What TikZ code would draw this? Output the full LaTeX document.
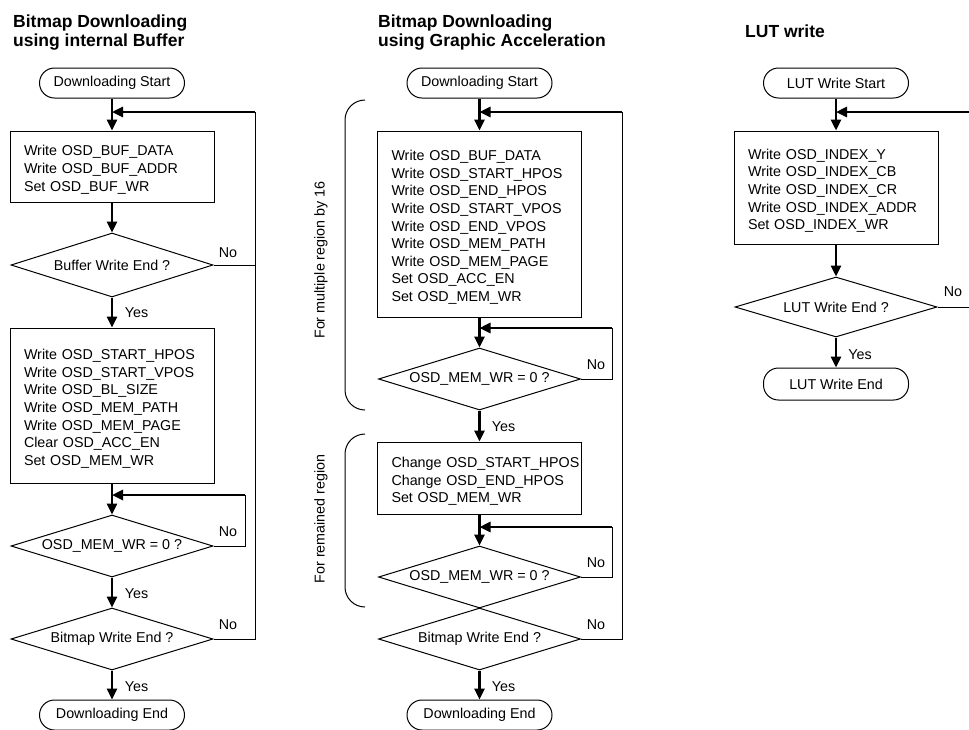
\documentclass[tikz,border=0pt]{standalone}
\usepackage{fontspec}
\setmainfont{Liberation Sans}
\usetikzlibrary{arrows.meta,shapes.geometric}
\begin{document}
\begin{tikzpicture}[x=1pt,y=-1pt,
  txt/.style={font=\fontsize{14.3}{17.6}\selectfont},
  term/.style={draw, line width=1pt, rounded corners=15pt, minimum width=145pt, minimum height=30pt, inner sep=0pt, txt},
  proc/.style={draw, line width=1pt, text width=176pt, inner xsep=14pt, inner ysep=0pt, align=left, txt,
    execute at begin node={\rule{0pt}{17pt}}},
  dec/.style={draw, diamond, line width=1pt, minimum width=202pt, inner sep=0pt, shape aspect=3, txt},
  flow/.style={line width=2.6pt, -{Triangle[length=11pt,width=10pt]}},
  back/.style={line width=1pt},
  ret/.style={line width=2.6pt, -{Triangle[length=11pt,width=10pt]}},
  lbl/.style={txt, inner sep=0pt},
  ttl/.style={font=\fontsize{17.5}{19}\selectfont\bfseries, align=left, anchor=north west, inner sep=0pt}
]
\useasboundingbox (0,0) rectangle (969,729);
\clip (0,0) rectangle (969,729);

% titles
\node[ttl] (t1) at (13,15) {Bitmap Downloading\\using internal Buffer};
\node[ttl] (t2) at (378,15) {Bitmap Downloading\\using Graphic Acceleration};
\node[ttl] (t3) at (745,25) {LUT write};

% column 1
\node[term] (s1) at (112,83) {Downloading Start};
\node[proc, minimum height=71pt] (b1) at (112,166.5) {Write OSD\_BUF\_DATA\\Write OSD\_BUF\_ADDR\\Set OSD\_BUF\_WR};
\node[dec, minimum height=64pt] (d1) at (112,265) {Buffer Write End ?};
\node[proc, minimum height=155pt] (b2) at (112,405.5) {Write OSD\_START\_HPOS\\Write OSD\_START\_VPOS\\Write OSD\_BL\_SIZE\\Write OSD\_MEM\_PATH\\Write OSD\_MEM\_PAGE\\Clear OSD\_ACC\_EN\\Set OSD\_MEM\_WR};
\node[dec, minimum height=62pt] (d2) at (112,546) {OSD\_MEM\_WR = 0 ?};
\node[dec, minimum height=62pt] (d3) at (112,639) {Bitmap Write End ?};
\node[term] (e1) at (112,715) {Downloading End};

% column 2
\node[term] (s2) at (479.5,83) {Downloading Start};
\node[proc, minimum height=186pt] (c1) at (479.5,224) {Write OSD\_BUF\_DATA\\Write OSD\_START\_HPOS\\Write OSD\_END\_HPOS\\Write OSD\_START\_VPOS\\Write OSD\_END\_VPOS\\Write OSD\_MEM\_PATH\\Write OSD\_MEM\_PAGE\\Set OSD\_ACC\_EN\\Set OSD\_MEM\_WR};
\node[dec, minimum height=62pt] (m1) at (479.5,379) {OSD\_MEM\_WR = 0 ?};
\node[proc, minimum height=72pt] (c2) at (479.5,478) {\mbox{Change OSD\_START\_HPOS}\\Change OSD\_END\_HPOS\\Set OSD\_MEM\_WR};
\node[dec, minimum height=62pt] (m2) at (479.5,577) {OSD\_MEM\_WR = 0 ?};
\node[dec, minimum height=62pt] (m3) at (479.5,639) {Bitmap Write End ?};
\node[term] (e2) at (479.5,715) {Downloading End};

% column 3
\node[term] (s3) at (836,83) {LUT Write Start};
\node[proc, minimum height=113pt] (l1) at (836,187.5) {Write OSD\_INDEX\_Y\\Write OSD\_INDEX\_CB\\Write OSD\_INDEX\_CR\\Write OSD\_INDEX\_ADDR\\Set OSD\_INDEX\_WR};
\node[dec, minimum height=60pt] (l2) at (836,307) {LUT Write End ?};
\node[term, minimum height=32pt] (l3) at (836,384) {LUT Write End};

% main flow
\draw[flow] (s1) -- (b1);
\draw[flow] (b1) -- (d1);
\draw[flow] (d1) -- (b2);
\draw[flow] (b2) -- (d2);
\draw[flow] (d2) -- (d3);
\draw[flow] (d3) -- (e1);
\draw[flow] (s2) -- (c1);
\draw[flow] (c1) -- (m1);
\draw[flow] (m1) -- (c2);
\draw[flow] (c2) -- (m2);
\draw[flow] (m3) -- (e2);
\draw[flow] (s3) -- (l1);
\draw[flow] (l1) -- (l2);
\draw[flow] (l2) -- (l3);

% return loops
\coordinate (r1) at (255,112);
\coordinate (r2) at (245,495);
\coordinate (r3) at (622,112);
\coordinate (r4) at (612,328);
\coordinate (r5) at (612,527);
\coordinate (r6) at (990,112);
\draw[back] (d3.east) -- (d3.east -| r1) -- (r1);
\draw[back] (d1.east) -- (d1.east -| r1);
\draw[ret] (r1) -- (s1.south |- r1);
\draw[back] (d2.east) -- (d2.east -| r2) -- (r2);
\draw[ret] (r2) -- (b2.south |- r2);
\draw[back] (m3.east) -- (m3.east -| r3) -- (r3);
\draw[ret] (r3) -- (s2.south |- r3);
\draw[back] (m1.east) -- (m1.east -| r4) -- (r4);
\draw[ret] (r4) -- (c1.south |- r4);
\draw[back] (m2.east) -- (m2.east -| r5) -- (r5);
\draw[ret] (r5) -- (c2.south |- r5);
\draw[back] (l2.east) -- (l2.east -| r6) -- (r6);
\draw[ret] (r6) -- (s3.south |- r6);

% labels
\node[lbl] (n1) at (228,253) {No};
\node[lbl] (n2) at (228,532) {No};
\node[lbl] (n3) at (228,625) {No};
\node[lbl] (n4) at (596,365) {No};
\node[lbl] (n5) at (596,563) {No};
\node[lbl] (n6) at (596,625) {No};
\node[lbl] (n7) at (953,292) {No};
\node[lbl] (y1) at (136.5,313) {Yes};
\node[lbl] (y2) at (136.5,594) {Yes};
\node[lbl] (y3) at (136.5,687) {Yes};
\node[lbl] (y4) at (503.5,427) {Yes};
\node[lbl] (y5) at (503.5,687) {Yes};
\node[lbl] (y6) at (860,355) {Yes};

% brackets
\draw[back, rounded corners=20pt] (365,100) -- (345,100) -- (345,410) -- (365,410);
\draw[back, rounded corners=20pt] (365,434) -- (345,434) -- (345,607) -- (365,607);
\node[lbl, rotate=90] (g1) at (321,260) {For multiple region by 16};
\node[lbl, rotate=90] (g2) at (321,519) {For remained region};
\end{tikzpicture}
\end{document}
